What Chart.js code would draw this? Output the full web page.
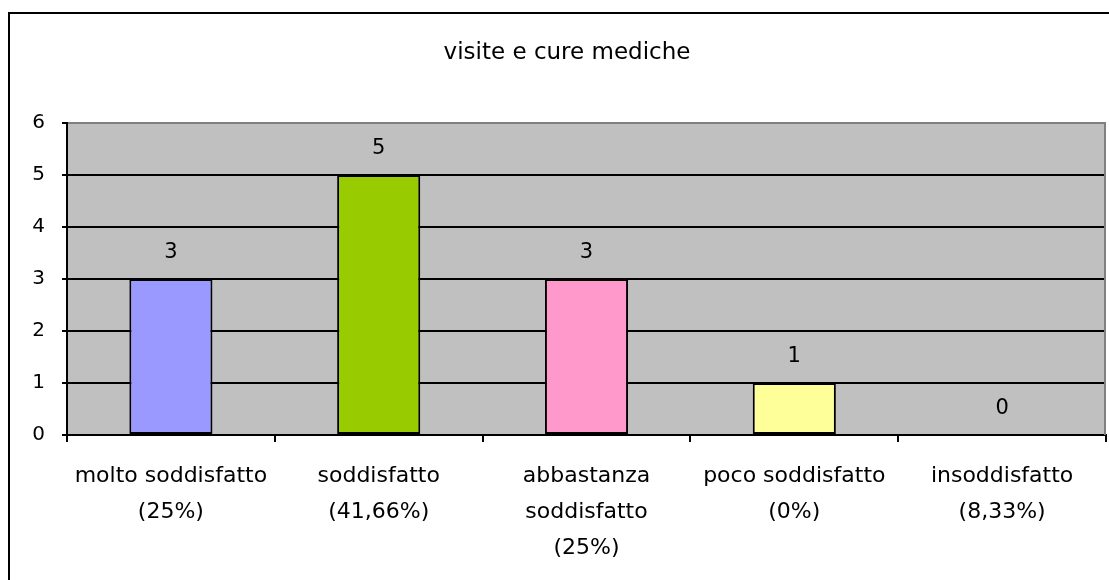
<!DOCTYPE html>
<html>
<head>
<meta charset="utf-8">
<script src="https://cdn.jsdelivr.net/npm/chart.js@4.4.1/dist/chart.umd.min.js"></script>
<style>
    html, body { margin: 0; padding: 0; background: #ffffff; }
    canvas { display: block; }
</style>
</head>
<body>
<canvas id="chart" width="1109" height="580"></canvas>
<script>
// chart values
const categories = [
    ['molto soddisfatto', '(25%)'],
    ['soddisfatto', '(41,66%)'],
    ['abbastanza', 'soddisfatto', '(25%)'],
    ['poco soddisfatto', '(0%)'],
    ['insoddisfatto', '(8,33%)']
];
const counts = [3, 5, 3, 1, 0];
const barColors = ['#9999ff', '#99cc00', '#ff99cc', '#ffff99', '#ccffff'];
const yTicks = [0, 1, 2, 3, 4, 5, 6];
const chartTitle = 'visite e cure mediche';

const FONT = "'DejaVu Sans', 'Liberation Sans', Arial, sans-serif";

// outer frame, title and grey plot background
const frameAndPlot = {
    id: 'frameAndPlot',
    beforeDraw(chart) {
        const { ctx, chartArea: a } = chart;
        ctx.save();
        ctx.fillStyle = '#ffffff';
        ctx.fillRect(0, 0, chart.width, chart.height);
        ctx.strokeStyle = '#000000';
        ctx.lineWidth = 2;
        ctx.strokeRect(9, 13, chart.width + 20, chart.height + 20);
        ctx.fillStyle = '#c0c0c0';
        ctx.fillRect(a.left, a.top, a.right - a.left, a.bottom - a.top);
        // title sits a little right of the canvas centre, as in the original
        ctx.font = '23px ' + FONT;
        ctx.fillStyle = '#000000';
        ctx.textAlign = 'center';
        ctx.textBaseline = 'middle';
        ctx.fillText(chartTitle, 567, 53);
        ctx.restore();
    },
    beforeDatasetsDraw(chart) {
        // grey border on the right side of the plot
        const { ctx, chartArea: a } = chart;
        ctx.save();
        ctx.strokeStyle = '#808080';
        ctx.lineWidth = 2;
        ctx.beginPath();
        ctx.moveTo(a.right - 1, a.top);
        ctx.lineTo(a.right - 1, a.bottom);
        ctx.stroke();
        ctx.restore();
    }
};

// value labels above each bar
const valueLabels = {
    id: 'valueLabels',
    afterDatasetsDraw(chart) {
        const { ctx } = chart;
        const meta = chart.getDatasetMeta(0);
        ctx.save();
        ctx.font = '21px ' + FONT;
        ctx.fillStyle = '#000000';
        ctx.textAlign = 'center';
        ctx.textBaseline = 'middle';
        meta.data.forEach((bar, i) => {
            ctx.fillText(String(counts[i]), bar.x, bar.y - 26);
        });
        ctx.restore();
    }
};

new Chart(document.getElementById('chart'), {
    type: 'bar',
    data: {
        labels: categories,
        datasets: [{
            data: counts,
            backgroundColor: barColors,
            borderColor: '#000000',
            borderWidth: 2,
            borderSkipped: false,
            categoryPercentage: 1,
            barPercentage: 0.4
        }]
    },
    options: {
        responsive: false,
        animation: false,
        layout: { padding: { left: 0, right: 3, top: 123, bottom: 0 } },
        plugins: {
            legend: { display: false },
            tooltip: { enabled: false },
            title: { display: false }
        },
        scales: {
            x: {
                offset: true,
                grid: {
                    offset: true,
                    drawOnChartArea: false,
                    drawTicks: true,
                    tickLength: 7,
                    color: '#000000',
                    lineWidth: 2
                },
                border: { color: '#000000', width: 2 },
                ticks: {
                    color: '#000000',
                    autoSkip: false,
                    maxRotation: 0,
                    minRotation: 0,
                    padding: 16,
                    font: { family: FONT, size: 22, lineHeight: 36 / 22 }
                },
                afterFit(scale) { scale.height = 145; }
            },
            y: {
                min: 0,
                max: 6,
                afterBuildTicks(scale) {
                    scale.ticks = yTicks.map(v => ({ value: v }));
                },
                grid: {
                    color: ctx => (ctx.tick && ctx.tick.value === 6 ? '#808080' : '#000000'),
                    lineWidth: 2,
                    tickColor: '#000000',
                    tickLength: 5
                },
                border: { color: '#000000', width: 2 },
                ticks: {
                    color: '#000000',
                    padding: 17,
                    font: { family: FONT, size: 20 }
                },
                afterFit(scale) { scale.width = 67; }
            }
        }
    },
    plugins: [frameAndPlot, valueLabels]
});
</script>
</body>
</html>
